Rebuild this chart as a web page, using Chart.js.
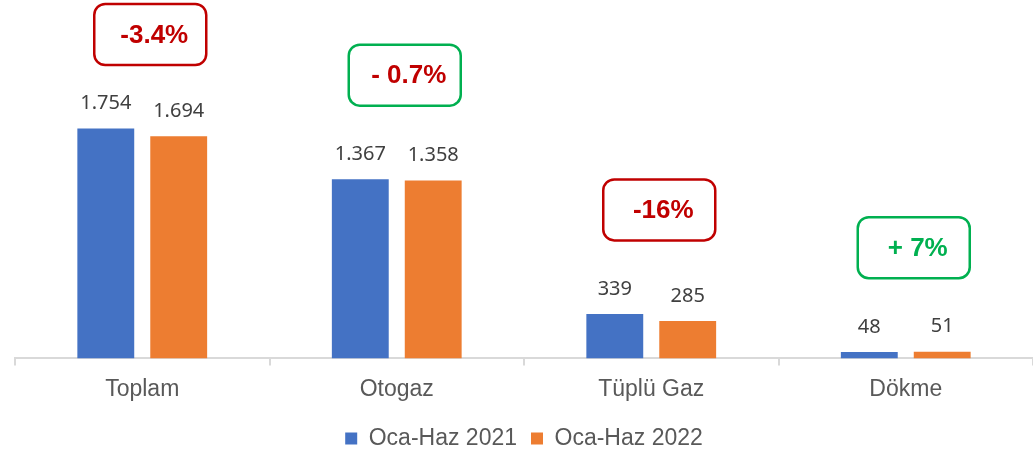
<!DOCTYPE html>
<html>
<head>
<meta charset="utf-8">
<script src="https://cdn.jsdelivr.net/npm/chart.js@4.4.0/dist/chart.umd.min.js"></script>
<style>
  html, body { margin: 0; padding: 0; background: #fff; }
  #wrap { width: 1033px; height: 454px; position: relative; }
</style>
</head>
<body>
<div id="wrap"><canvas id="chart_lpg"></canvas></div>
<script>
// satış verileri (bin ton)
var categories = ["Toplam", "Otogaz", "Tüplü Gaz", "Dökme"];
var sales2021 = [1754, 1367, 339, 48];
var sales2022 = [1694, 1358, 285, 51];
var changeLabels = ["-3.4%", "- 0.7%", "-16%", "+ 7%"];

function fmt(v) {
    return String(v).replace(/\B(?=(\d{3})+(?!\d))/g, ".");
}

// değişim kutuları: kenarlık ve yazı renkleri
var boxBorder = ["#C00000", "#00B050", "#C00000", "#00B050"];
var boxText = ["#C00000", "#C00000", "#C00000", "#00B050"];

var valueLabels = {
    id: "valueLabels",
    afterDatasetsDraw: function (chart) {
        var ctx = chart.ctx;
        ctx.save();
        ctx.font = "20px 'Noto Sans'";
        ctx.fillStyle = "#404040";
        ctx.textAlign = "center";
        ctx.textBaseline = "middle";
        chart.data.datasets.forEach(function (ds, i) {
            chart.getDatasetMeta(i).data.forEach(function (bar, j) {
                ctx.fillText(fmt(ds.data[j]), bar.x, bar.y - 25);
            });
        });
        ctx.restore();
    }
};

var changeBoxes = {
    id: "changeBoxes",
    afterDatasetsDraw: function (chart) {
        var ctx = chart.ctx;
        var xs = chart.scales.x, ys = chart.scales.y;
        ctx.save();
        categories.forEach(function (c, j) {
            var top = ys.getPixelForValue(Math.max(sales2021[j], sales2022[j]));
            var w = 112, h = 61;
            var cx = xs.getPixelForValue(j) + 8;
            var cy = Math.max(top - 104, h / 2 + 4);
            ctx.beginPath();
            ctx.roundRect(cx - w / 2, cy - h / 2, w, h, 11);
            ctx.lineWidth = 2.5;
            ctx.strokeStyle = boxBorder[j];
            ctx.stroke();
            ctx.font = "bold 26px 'Liberation Sans'";
            ctx.fillStyle = boxText[j];
            ctx.textAlign = "center";
            ctx.textBaseline = "middle";
            ctx.fillText(changeLabels[j], cx + 4, cy + 1);
        });
        ctx.restore();
    }
};

var ctx = document.getElementById("chart_lpg").getContext("2d");
var chart = new Chart(ctx, {
    type: "bar",
    data: {
        labels: categories,
        datasets: [
            { label: "Oca-Haz 2021", data: sales2021, backgroundColor: "#4472C4" },
            { label: "Oca-Haz 2022", data: sales2022, backgroundColor: "#ED7D31" }
        ]
    },
    options: {
        responsive: true,
        maintainAspectRatio: false,
        animation: false,
        layout: { padding: { left: 15, right: 0, top: 0, bottom: -6 } },
        datasets: { bar: { categoryPercentage: 0.573, barPercentage: 0.78 } },
        scales: {
            x: {
                grid: { display: true, drawOnChartArea: false, offset: true, tickLength: 7, color: "#d9d9d9", lineWidth: 2 },
                border: { color: "#d9d9d9", width: 2 },
                ticks: { color: "#595959", font: { family: "'Liberation Sans'", size: 23 }, padding: 10 }
            },
            y: { display: false, min: 0, max: 2734 }
        },
        plugins: {
            legend: {
                position: "bottom",
                labels: {
                    boxWidth: 12, boxHeight: 12, padding: 14,
                    color: "#595959",
                    font: { family: "'Liberation Sans'", size: 23 }
                }
            },
            tooltip: { enabled: false }
        }
    },
    plugins: [valueLabels, changeBoxes]
});
</script>
</body>
</html>
